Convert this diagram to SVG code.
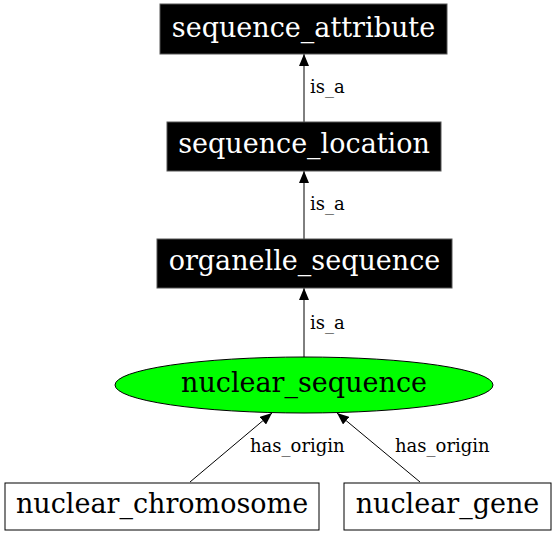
<svg xmlns="http://www.w3.org/2000/svg" width="555" height="536" viewBox="0 0 555 536">
<style>
.node text{font-family:"DejaVu Serif","Liberation Serif",serif;font-size:27px;text-anchor:middle}
.dark rect{fill:#000;stroke:#555;stroke-width:1}
.dark text{fill:#fff}
.light rect{fill:#fff;stroke:#000;stroke-width:1}
.edge line{stroke:#000;stroke-width:1}
.edge text{font-family:"DejaVu Serif","Liberation Serif",serif;font-size:18px;fill:#000}
</style>
<defs>
<marker id="ah" viewBox="0 0 12 10" refX="12" refY="5" markerWidth="12" markerHeight="10" markerUnits="userSpaceOnUse" orient="auto">
<path d="M0,0 L12,5 L0,10 z" fill="#000"/>
</marker>
</defs>
<rect width="555" height="536" fill="#fff"/>
<g id="connectors" class="edge">
<line x1="304" y1="122" x2="304" y2="54" marker-end="url(#ah)"/>
<text x="310" y="93">is_a</text>
<line x1="304" y1="239" x2="304" y2="171" marker-end="url(#ah)"/>
<text x="310" y="210">is_a</text>
<line x1="304" y1="357" x2="304" y2="288" marker-end="url(#ah)"/>
<text x="310" y="329">is_a</text>
<line x1="190" y1="482" x2="272" y2="413" marker-end="url(#ah)"/>
<text x="250" y="452">has_origin</text>
<line x1="420" y1="482" x2="337" y2="413" marker-end="url(#ah)"/>
<text x="395" y="452">has_origin</text>
</g>
<g id="sequence_attribute" class="node dark">
<rect x="160" y="4" width="287" height="50"/>
<text x="303.5" y="37">sequence_attribute</text>
</g>
<g id="sequence_location" class="node dark">
<rect x="167" y="122" width="274" height="49"/>
<text x="304" y="153">sequence_location</text>
</g>
<g id="organelle_sequence" class="node dark">
<rect x="157" y="239" width="295" height="49"/>
<text x="304.5" y="270">organelle_sequence</text>
</g>
<g id="nuclear_sequence" class="node">
<ellipse cx="304" cy="385" rx="189" ry="28" fill="#00ff00" stroke="#000" stroke-width="1"/>
<text x="304" y="392">nuclear_sequence</text>
</g>
<g id="nuclear_chromosome" class="node light">
<rect x="5" y="483" width="314" height="47"/>
<text x="162" y="513">nuclear_chromosome</text>
</g>
<g id="nuclear_gene" class="node light">
<rect x="344" y="483" width="207" height="47"/>
<text x="447.5" y="513">nuclear_gene</text>
</g>
</svg>
